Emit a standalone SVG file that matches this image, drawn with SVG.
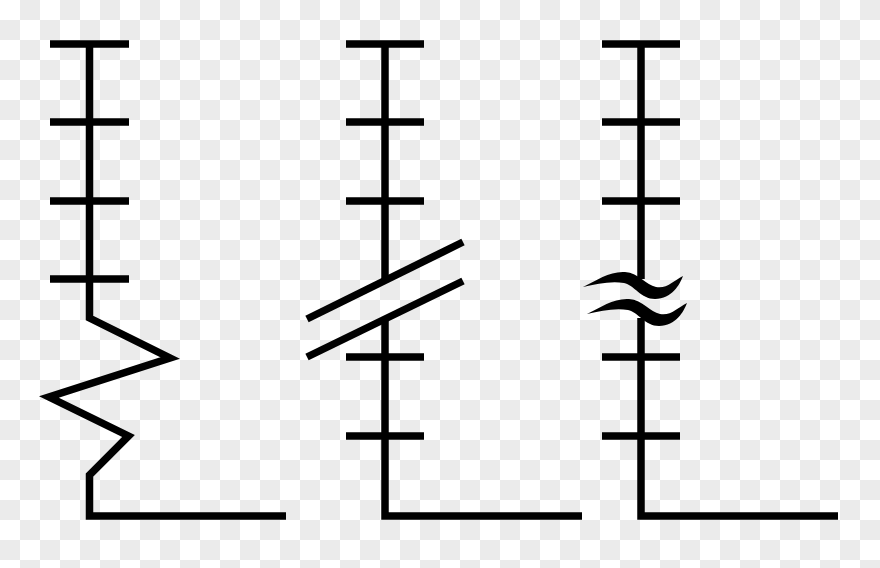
<svg xmlns="http://www.w3.org/2000/svg" width="880" height="568" viewBox="0 0 880 568">
  <defs>
    <pattern id="checker" width="40" height="40" patternUnits="userSpaceOnUse">
      <rect width="40" height="40" fill="#ffffff"/>
      <rect x="20" y="0" width="20" height="20" fill="#ebebeb"/>
      <rect x="0" y="20" width="20" height="20" fill="#ebebeb"/>
    </pattern>
    <path id="wave" d="M583,287 C597,280 610,271 625,272 C639,273 646,285 656,287 C667,289 673,281 683,276 C680,284 672,299 655,299 C641,299 634,285 624,283 C610,281 597,284 583,287 Z"/>
  </defs>
  <style>
    .ln { fill: none; stroke: #000; stroke-width: 7.5; stroke-linecap: butt; stroke-linejoin: miter; }
  </style>
  <rect width="880" height="568" fill="url(#checker)"/>

  <g id="zigzag-axis">
    <polyline class="ln" points="89.5,44 89.5,318 170,358 49,397 128.5,436 89.5,475 89.5,516 286,516"/>
    <path class="ln" d="M50,44 H129 M50,122 H129 M50,201 H129 M50,279 H129"/>
  </g>

  <g id="slash-axis">
    <polyline class="ln" points="385,44 385,282"/>
    <polyline class="ln" points="385,318 385,516 582,516"/>
    <path class="ln" d="M346,44 H424 M346,122 H424 M346,201 H424 M346,357 H424 M346,436 H424"/>
    <line class="ln" x1="307" y1="319" x2="463" y2="242"/>
    <line class="ln" x1="307" y1="357" x2="463" y2="281"/>
  </g>

  <g id="wave-axis">
    <polyline class="ln" points="641,44 641,279"/>
    <polyline class="ln" points="641,318 641,516 838,516"/>
    <path class="ln" d="M602,44 H680 M602,122 H680 M602,201 H680 M602,357 H680 M602,436 H680"/>
    <use href="#wave"/>
    <use href="#wave" transform="translate(4,27)"/>
  </g>
</svg>
